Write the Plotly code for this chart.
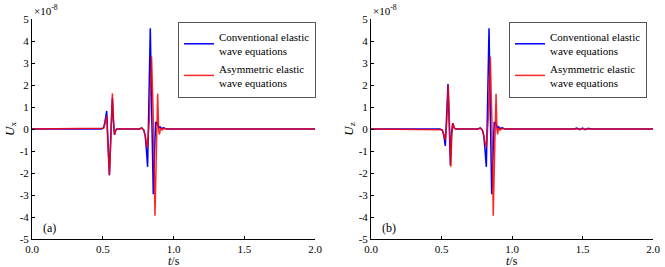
import plotly.graph_objects as go

# ---- data (values in units of 1e-8) ----
ux_conv_t = [0, 0.49, 0.505, 0.515, 0.528, 0.537, 0.547, 0.557, 0.568, 0.576, 0.583, 0.592, 0.60,
             0.76, 0.775, 0.79, 0.80, 0.808, 0.817, 0.826, 0.836, 0.846, 0.857, 0.866, 0.874, 0.882,
             0.89, 0.897, 0.905, 0.915, 0.93, 0.95, 2.0]
ux_conv_v = [0, 0, 0.05, 0.3, 0.82, -0.6, -2.1, -0.3, 1.4, 0.3, -0.25, -0.05, 0,
             0, 0.05, -0.05, -0.3, -0.9, -1.72, 1.2, 4.58, 0.8, -2.97, -1.0, 0.3, 0.3,
             0.15, 0.05, 0.1, 0.02, 0.05, 0, 0]
ux_asym_t = [0, 0.49, 0.505, 0.515, 0.528, 0.537, 0.547, 0.557, 0.568, 0.576, 0.583, 0.592, 0.60,
             0.76, 0.775, 0.79, 0.80, 0.815, 0.83, 0.845, 0.857, 0.869, 0.879, 0.888, 0.895,
             0.90, 0.91, 0.92, 0.93, 0.95, 2.0]
ux_asym_v = [0, 0, 0.03, 0.2, 0.6, -0.8, -2.1, -0.5, 1.62, 0.4, -0.27, -0.05, 0,
             0, 0.05, -0.05, -0.3, -0.85, 0.5, 3.3, 0.5, -3.94, -1.0, 1.6, 0.0,
             -0.25, 0.05, -0.05, 0.02, 0, 0]

uz_conv_t = [0, 0.49, 0.505, 0.515, 0.527, 0.537, 0.546, 0.555, 0.563, 0.571, 0.579, 0.59, 0.60,
             0.76, 0.775, 0.79, 0.80, 0.808, 0.818, 0.827, 0.837, 0.846, 0.856, 0.866, 0.874, 0.882,
             0.89, 0.897, 0.905, 0.915, 0.93, 0.95, 1.44, 1.46, 1.48, 1.50, 1.52, 1.54, 1.56, 2.0]
uz_conv_v = [0, 0, -0.05, -0.25, -0.77, 0.5, 2.05, 0.2, -1.65, -0.2, 0.26, 0.05, 0,
             0, 0.05, -0.05, -0.3, -0.9, -1.72, 1.2, 4.58, 0.8, -2.97, -1.0, 0.3, 0.3,
             0.15, 0.05, 0.1, 0.02, 0.05, 0, 0, 0.04, -0.03, 0.04, -0.03, 0.03, 0, 0]
uz_asym_t = [0, 0.49, 0.505, 0.515, 0.527, 0.537, 0.548, 0.557, 0.566, 0.573, 0.581, 0.59, 0.60,
             0.76, 0.775, 0.79, 0.80, 0.818, 0.832, 0.846, 0.857, 0.867, 0.877, 0.887, 0.893,
             0.898, 0.905, 0.915, 0.93, 0.95, 2.0]
uz_asym_v = [0, 0, -0.03, -0.2, -0.5, 0.3, 2.0, 0.1, -1.72, -0.3, 0.26, 0.05, 0,
             0, 0.05, -0.05, -0.3, -0.85, 0.5, 3.3, 0.5, -3.94, -1.0, 1.6, 0.0,
             -0.25, 0.05, -0.05, 0.02, 0, 0]

x_ticks = [0.0, 0.5, 1.0, 1.5, 2.0]
y_ticks = [-5, -4, -3, -2, -1, 0, 1, 2, 3, 4, 5]
names = ["Conventional elastic<br>wave equations", "Asymmetric elastic<br>wave equations"]
panel_labels = ["(a)", "(b)"]
y_titles = ["<i>U</i><sub>x</sub>", "<i>U</i><sub>z</sub>"]
x_title = "<i>t</i>/s"

W, H = 665, 267
FONT = "Liberation Serif, Times New Roman, serif"
BLUE = "#0000ff"
RED = "rgba(255,0,0,0.85)"

fig = go.Figure()

panels = [
    (ux_conv_t, ux_conv_v, ux_asym_t, ux_asym_v, "x", "y", "legend"),
    (uz_conv_t, uz_conv_v, uz_asym_t, uz_asym_v, "x2", "y2", "legend2"),
]
for (ct, cv, at, av, xa, ya, lg) in panels:
    fig.add_trace(go.Scatter(x=ct, y=cv, mode="lines", name=names[0], xaxis=xa, yaxis=ya,
                             line=dict(color=BLUE, width=1.5), legend=lg))
    fig.add_trace(go.Scatter(x=at, y=av, mode="lines", name=names[1], xaxis=xa, yaxis=ya,
                             line=dict(color=RED, width=1.5), legend=lg))

ydom = [(H - 239) / H, (H - 19) / H]
xdoms = [[32 / W, 315 / W], [371 / W, 653 / W]]

axis_common = dict(showline=True, linecolor="black", linewidth=1, ticks="inside", ticklen=3,
                   tickcolor="black", showgrid=False, zeroline=False, mirror=False, automargin=False,
                   tickfont=dict(family=FONT, size=11, color="black"))

for i, (xk, yk) in enumerate([("xaxis", "yaxis"), ("xaxis2", "yaxis2")]):
    xa = dict(axis_common, domain=xdoms[i], range=[0, 2], tickvals=x_ticks,
              ticktext=[f"{v:.1f}" for v in x_ticks], anchor="y" if i == 0 else "y2")
    ya = dict(axis_common, domain=ydom, range=[-5, 5], tickvals=y_ticks,
              ticktext=[str(v) for v in y_ticks], anchor="x" if i == 0 else "x2",
              title=dict(text=y_titles[i], font=dict(family=FONT, size=13, color="black"), standoff=2))
    fig.update_layout(**{xk: xa, yk: ya})

legend_common = dict(bgcolor="white", bordercolor="#555555", borderwidth=1,
                     font=dict(family=FONT, size=11, color="black"), xanchor="right", yanchor="top",
                     tracegroupgap=0, itemwidth=30)
fig.update_layout(
    legend=dict(legend_common, x=316 / W, y=(H - 22) / H),
    legend2=dict(legend_common, x=647 / W, y=(H - 22) / H),
)

for i in range(2):
    fig.add_annotation(text="×10<sup>-8</sup>", xref="paper", yref="paper",
                       x=xdoms[i][0], y=(H - 10) / H, xanchor="left", yanchor="middle",
                       showarrow=False, font=dict(family=FONT, size=11, color="black"))
    fig.add_annotation(text=panel_labels[i], xref="x" if i == 0 else "x2", yref="y" if i == 0 else "y2",
                       x=0.125, y=-4.5, showarrow=False,
                       font=dict(family=FONT, size=12, color="black"))
    fig.add_annotation(text=x_title, xref="x" if i == 0 else "x2", yref="paper",
                       x=1.0, y=(H - 261) / H, xanchor="center", yanchor="middle",
                       showarrow=False, font=dict(family=FONT, size=12, color="black"))

fig.update_layout(width=W, height=H, margin=dict(l=0, r=0, t=0, b=0),
                  plot_bgcolor="white", paper_bgcolor="white", showlegend=True)

fig.write_html("out.html", config={"displayModeBar": False},
               post_script="document.body.style.margin='0';document.body.style.padding='0';")
